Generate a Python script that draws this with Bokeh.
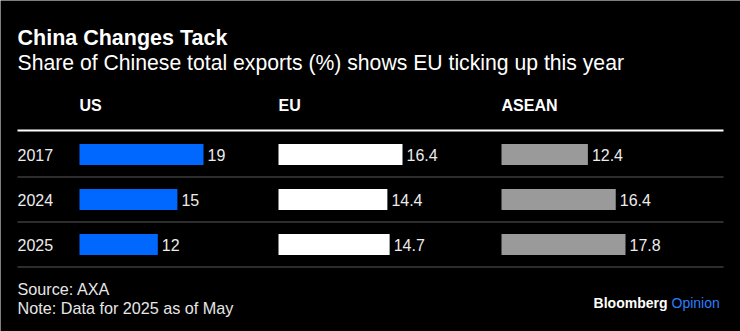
from bokeh.plotting import figure
from bokeh.models import Range1d, ColumnDataSource
from bokeh.core.properties import value
from bokeh.embed import file_html
from bokeh.resources import INLINE

# ---- data ----
years = ["2017", "2024", "2025"]
regions = ["US", "EU", "ASEAN"]
us = [19, 15, 12]
eu = [16.4, 14.4, 14.7]
asean = [12.4, 16.4, 17.8]
series = [us, eu, asean]
colors = ["#0068ff", "#ffffff", "#9a9a9a"]

title = "China Changes Tack"
subtitle = "Share of Chinese total exports (%) shows EU ticking up this year"
source = "Source: AXA"
note = "Note: Data for 2025 as of May"

W, H = 740, 331
FONT = "Liberation Sans"

p = figure(width=W, height=H, output_backend="svg", toolbar_location=None,
           x_range=Range1d(0, W), y_range=Range1d(H, 0), min_border=0)
p.axis.visible = False
p.grid.visible = False
p.outline_line_color = None
p.background_fill_color = "black"
p.border_fill_color = "black"

# layout geometry (pixels)
row0, row_step = 154, 45
col_starts = [79, 278, 501]
max_bar = 124

p.extra_y_ranges = {"rows": Range1d(start=(H - row0) / row_step, end=-row0 / row_step)}
for i, vals in enumerate(series):
    m = max(vals)
    s = col_starts[i]
    p.extra_x_ranges[f"c{i}"] = Range1d(start=-s * m / max_bar, end=(W - s) * m / max_bar)

rows = list(range(len(years)))

# separators
p.segment(x0=[17] * 3, x1=[723] * 3, y0=[r + 0.5 for r in rows], y1=[r + 0.5 for r in rows],
          y_range_name="rows", line_color="#3d3d3d", line_width=1.3)
p.segment(x0=[17], x1=[723], y0=[130], y1=[130], line_color="white", line_width=2)

# bars + labels
for i, vals in enumerate(series):
    src = ColumnDataSource(dict(y=rows, v=vals, lab=[str(v) for v in vals]))
    p.hbar(y="y", left=0, right="v", height=0.47, source=src, fill_color=colors[i],
           line_color=None, x_range_name=f"c{i}", y_range_name="rows")
    p.text(x="v", y="y", text="lab", source=src, x_range_name=f"c{i}", y_range_name="rows",
           x_offset=4, text_baseline="middle", text_font=value(FONT), text_font_size="16px",
           text_color="#ececec")
    p.text(x=[0], y=[105], text=[regions[i]], x_range_name=f"c{i}", text_baseline="middle",
           text_font=value(FONT), text_font_size="16px", text_font_style="bold", text_color="white")

# year labels
p.text(x=[17] * 3, y=rows, text=years, y_range_name="rows", text_baseline="middle",
       text_font=value(FONT), text_font_size="16px", text_color="#ececec")

# titles
p.text(x=[17], y=[37], text=[title], text_baseline="middle", text_font=value(FONT),
       text_font_size="21.5px", text_font_style="bold", text_color="white")
p.text(x=[17], y=[62], text=[subtitle], text_baseline="middle", text_font=value(FONT),
       text_font_size="21.2px", text_color="white")

# footer
p.text(x=[17, 17], y=[288, 307], text=[source, note], text_baseline="middle",
       text_font=value(FONT), text_font_size="16.2px", text_color="#e6e6e6")
p.text(x=[667], y=[302], text=["Bloomberg"], text_baseline="middle", text_align="right",
       text_font=value(FONT), text_font_size="14px", text_font_style="bold", text_color="white")
p.text(x=[671], y=[302], text=["Opinion"], text_baseline="middle", text_align="left",
       text_font=value(FONT), text_font_size="14px", text_color="#2a7fff")

open("out.html", "w").write(file_html(p, INLINE))
